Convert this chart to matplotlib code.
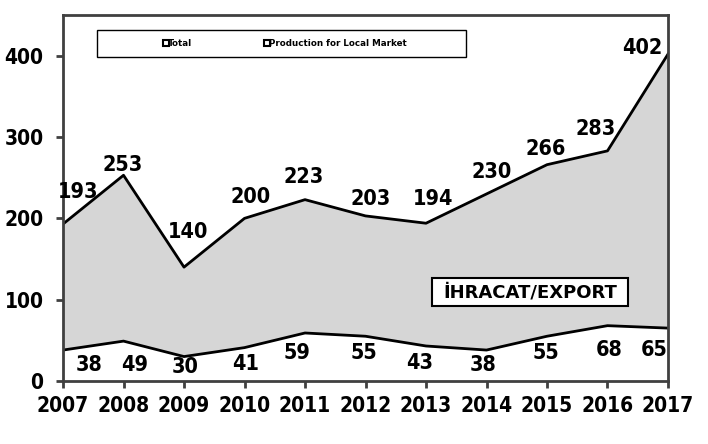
import matplotlib.pyplot as plt
from matplotlib.patches import Rectangle

years = [2007, 2008, 2009, 2010, 2011, 2012, 2013, 2014, 2015, 2016, 2017]
total = [193, 253, 140, 200, 223, 203, 194, 230, 266, 283, 402]
local = [38, 49, 30, 41, 59, 55, 43, 38, 55, 68, 65]

# label offsets in pixels (dx, dy up) from each data point
total_off = [(15, 32), (-1, 10), (4, 35), (6, 21), (-1, 23), (5, 17), (7, 24), (5, 22), (-1, 16), (-12, 22), (-26, 6)]
local_off = [(26, -15), (11, -24), (1, -10), (1, -16), (-8, -20), (-2, -17), (-6, -17), (-3, -15), (-1, -17), (2, -24), (-14, -22)]

plt.rcParams['font.family'] = ['DejaVu Sans']
plt.rcParams['font.weight'] = 'bold'
plt.rcParams['font.stretch'] = 'condensed'

fig = plt.figure(figsize=(7.08, 4.44), dpi=100)
ax = fig.add_axes([0.089, 0.142, 0.8545, 0.824])

ax.fill_between(years, local, total, color='#d6d6d6', lw=0)
ax.plot(years, total, color='black', lw=2)
ax.plot(years, local, color='black', lw=2)

px = 0.72  # points per pixel at dpi 100
for x, v, (dx, dy) in zip(years, total, total_off):
    ax.annotate(str(v), (x, v), xytext=(dx * px, dy * px), textcoords='offset points',
                ha='center', va='center', fontsize=15.5, fontweight='bold', annotation_clip=False)
for x, v, (dx, dy) in zip(years, local, local_off):
    ax.annotate(str(v), (x, v), xytext=(dx * px, dy * px), textcoords='offset points',
                ha='center', va='center', fontsize=15.5, fontweight='bold', annotation_clip=False)

ax.set_xlim(2007, 2017)
ax.set_ylim(0, 450)
ax.set_yticks([0, 100, 200, 300, 400])
ax.set_xticks(years)
ax.tick_params(axis='both', labelsize=15, width=2, length=5, color='#404040')
ax.tick_params(axis='x', pad=6)
ax.tick_params(axis='y', pad=9)
for lab in ax.get_xticklabels() + ax.get_yticklabels():
    lab.set_fontweight('bold')
for s in ax.spines.values():
    s.set_linewidth(2)
    s.set_color('#404040')

# legend box
ax.add_patch(Rectangle((0.056, 0.885), 0.61, 0.074, transform=ax.transAxes,
                       facecolor='white', edgecolor='black', lw=1, zorder=5))
ax.plot([0.17], [0.923], marker='s', ms=4.5, mfc='white', mec='black', mew=1.5,
        transform=ax.transAxes, zorder=6)
ax.text(0.174, 0.923, 'Total', transform=ax.transAxes, fontsize=6.3,
        fontweight='bold', fontstretch='normal', va='center', zorder=6)
ax.plot([0.337], [0.923], marker='s', ms=4.5, mfc='white', mec='black', mew=1.5,
        transform=ax.transAxes, zorder=6)
ax.text(0.341, 0.923, 'Production for Local Market', transform=ax.transAxes,
        fontsize=6.3, fontweight='bold', fontstretch='normal', va='center', zorder=6)

# export box
ax.add_patch(Rectangle((0.610, 0.205), 0.324, 0.076, transform=ax.transAxes,
                       facecolor='white', edgecolor='black', lw=1.5, zorder=5))
ax.text(0.772, 0.243, 'İHRACAT/EXPORT', transform=ax.transAxes, fontsize=13,
        fontweight='bold', fontstretch='normal', ha='center', va='center', zorder=6)

fig.savefig('out.png', dpi=100)
